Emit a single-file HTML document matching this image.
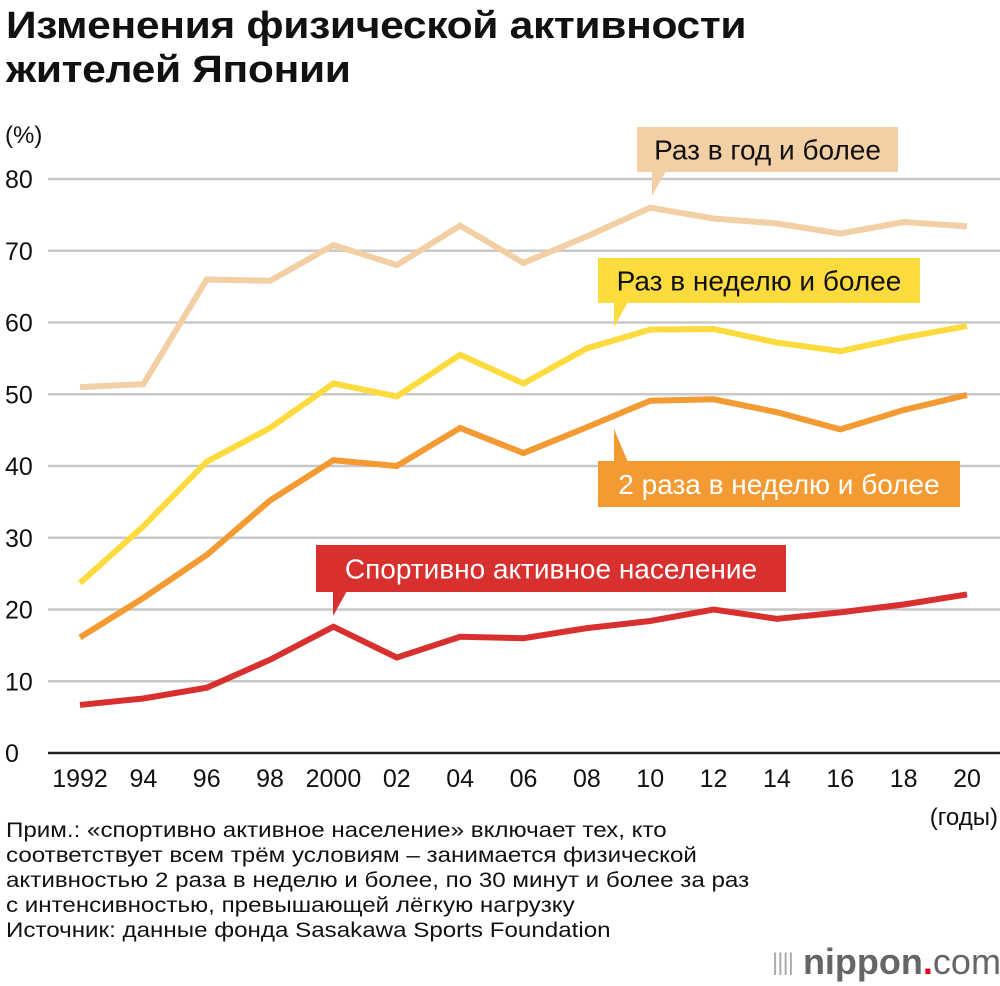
<!DOCTYPE html>
<html><head><meta charset="utf-8">
<style>
body{margin:0;background:#fff;font-family:"Liberation Sans","DejaVu Sans",sans-serif;}
#wrap{position:relative;width:1000px;height:986px;overflow:hidden;}
.title{position:absolute;left:6px;top:4px;font-size:38px;font-weight:bold;line-height:44px;color:#111;letter-spacing:-0.3px;transform:scaleX(1.12);transform-origin:left top;white-space:nowrap}
.note{position:absolute;left:6px;top:818px;font-size:21px;line-height:25px;color:#111;transform:scaleX(1.15);transform-origin:left top;white-space:nowrap}
</style></head><body>
<div id="wrap">
<div class="title">Изменения физической активности<br>жителей Японии</div>
<svg id="chart" width="1000" height="986" style="position:absolute;left:0;top:0"></svg>
<div class="note">Прим.: «спортивно активное население» включает тех, кто<br>соответствует всем трём условиям – занимается физической<br>активностью 2 раза в неделю и более, по 30 минут и более за раз<br>с интенсивностью, превышающей лёгкую нагрузку<br>Источник: данные фонда Sasakawa Sports Foundation</div>
<div style="position:absolute;left:772px;top:942px;font-size:36px;line-height:40px;color:#666;font-weight:bold;white-space:nowrap"><span style="font-weight:normal;font-size:24px;color:#aaa;vertical-align:4px;letter-spacing:-1px">||||</span> nippon<span style="color:#e60012">.</span><span style="font-weight:normal">com</span></div>
</div>
<script>
const years=["1992","94","96","98","2000","02","04","06","08","10","12","14","16","18","20"];
const yTicks=[0,10,20,30,40,50,60,70,80];
const onceYear=[51,51.4,66,65.8,70.8,68,73.5,68.3,72,76,74.5,73.8,72.4,74,73.4];
const onceWeek=[23.7,31.6,40.6,45.3,51.5,49.7,55.5,51.5,56.4,59,59.1,57.2,56,57.9,59.5];
const twiceWeek=[16.1,21.6,27.6,35.2,40.8,40,45.3,41.8,45.4,49.1,49.3,47.5,45.1,47.8,49.9];
const sporty=[6.7,7.6,9.1,13,17.6,13.3,16.2,16,17.4,18.4,20,18.7,19.6,20.7,22.1];
const NS="http://www.w3.org/2000/svg";
const svg=document.getElementById('chart');
const x=i=>80+i*(967-80)/(years.length-1);
const y=v=>753-v*(753-179)/80;
function el(t,a,p){const e=document.createElementNS(NS,t);for(const k in a)e.setAttribute(k,a[k]);(p||svg).appendChild(e);return e;}
yTicks.forEach(v=>{
  if(v>0){const l=el('line',{x1:48,x2:1000,y1:y(v),y2:y(v),stroke:'#c8c8c8','stroke-width':2.5});
  
  }
  const t=el('text',{x:5,y:y(v)+9,'font-size':25,fill:'#111'});t.textContent=v;
  
  
});
const ax=el('line',{x1:48,x2:1000,y1:753,y2:753,stroke:'#222','stroke-width':2.5});


const pc=el('text',{x:5,y:143,'font-size':24,fill:'#111'});pc.textContent='(%)';


years.forEach((yr,i)=>{const t=el('text',{x:x(i),y:787,'font-size':25,fill:'#111','text-anchor':'middle'});t.textContent=yr;
  
  });
const yu=el('text',{x:998,y:825,'font-size':24,fill:'#111','text-anchor':'end'});yu.textContent='(годы)';


const series=[[onceYear,'#f2cfa4','line-once-year'],[onceWeek,'#fcdb3f','line-once-week'],[twiceWeek,'#f39a33','line-twice-week'],[sporty,'#d8302e','line-sporty']];
series.forEach(([d,c,n])=>{
  const p=el('polyline',{points:d.map((v,i)=>x(i)+','+y(v)).join(' '),fill:'none',stroke:c,'stroke-width':6,'stroke-linejoin':'miter'});
  
  
});
const labels=[
 ['Раз в год и более','#f2cfa4','#111',637,127,261,45,652,'down','label-once-year'],
 ['Раз в неделю и более','#fcdb3f','#111',598,258,322,45,614,'down','label-once-week'],
 ['2 раза в неделю и более','#f39a33','#fff',598,461,362,46,614,'up','label-twice-week'],
 ['Спортивно активное население','#d8302e','#fff',316,545,470,47,333,'down','label-sporty']];
labels.forEach(([txt,bg,fg,lx,ly,w,h,px,dir,n])=>{
  const g=el('g',{});
  
  
  el('rect',{x:lx,y:ly,width:w,height:h,fill:bg},g);
  if(dir==='down')el('polygon',{points:`${px},${ly+h-1} ${px+14},${ly+h-1} ${px},${ly+h+24}`,fill:bg},g);
  else el('polygon',{points:`${px},${ly+1} ${px+14},${ly+1} ${px},${ly-32}`,fill:bg},g);
  const t=el('text',{x:lx+w/2,y:ly+h/2+10,'font-size':28,fill:fg,'text-anchor':'middle'},g);t.textContent=txt;
});
</script>
</body></html>
